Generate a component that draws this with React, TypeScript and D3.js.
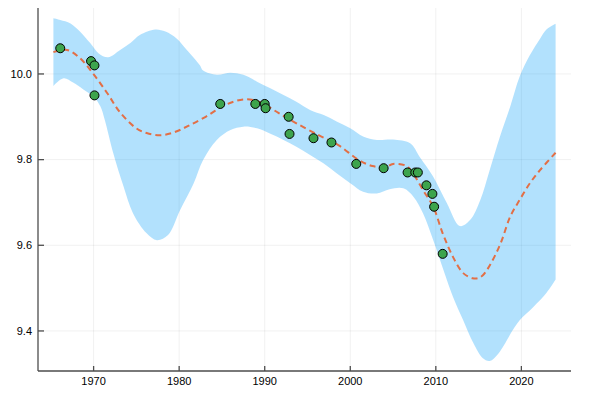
import React from 'react';
import * as d3 from 'd3';

// observations
const pointYears = [1966.1, 1969.7, 1970.1, 1970.1, 1984.8, 1988.9, 1990.0, 1990.1, 1992.8, 1992.9, 1995.7, 1997.8, 2000.7, 2003.9, 2006.7, 2007.6, 2007.9, 2008.9, 2009.6, 2009.8, 2010.8];
const pointValues = [10.06, 10.03, 10.02, 9.95, 9.93, 9.93, 9.93, 9.92, 9.90, 9.86, 9.85, 9.84, 9.79, 9.78, 9.77, 9.77, 9.77, 9.74, 9.72, 9.69, 9.58];

// fitted mean (dashed)
const meanYears = [1965.3, 1966.9, 1968.4, 1969.9, 1971.6, 1973.1, 1975.0, 1976.2, 1977.8, 1979.3, 1981.0, 1983.1, 1985.4, 1987.8, 1989.7, 1991.6, 1993.6, 1996.3, 1998.6, 2001.0, 2002.6, 2004.1, 2005.0, 2006.6, 2007.3, 2008.5, 2009.7, 2010.8, 2012.0, 2013.2, 2014.3, 2014.9, 2015.5, 2016.5, 2017.6, 2018.7, 2019.8, 2021.0, 2022.2, 2024.0];
const meanValues = [10.051, 10.056, 10.037, 10.002, 9.955, 9.910, 9.873, 9.862, 9.857, 9.863, 9.878, 9.900, 9.928, 9.941, 9.932, 9.909, 9.886, 9.857, 9.834, 9.799, 9.785, 9.782, 9.790, 9.785, 9.769, 9.729, 9.690, 9.628, 9.573, 9.535, 9.523, 9.523, 9.530, 9.560, 9.606, 9.667, 9.706, 9.745, 9.776, 9.816];

// confidence band, upper edge
const upperYears = [1965.3, 1966.1, 1967.3, 1968.4, 1969.6, 1970.6, 1971.7, 1973.1, 1974.3, 1975.4, 1977.2, 1978.4, 1979.7, 1980.9, 1982.4, 1982.8, 1984.4, 1986.0, 1987.5, 1989.1, 1990.6, 1992.2, 1993.7, 1995.3, 1996.9, 1998.4, 2000.0, 2001.5, 2003.1, 2005.0, 2007.0, 2008.1, 2009.7, 2011.3, 2012.8, 2014.0, 2015.2, 2016.3, 2017.5, 2018.7, 2019.8, 2021.0, 2022.2, 2022.9, 2024.0];
const upperValues = [10.130, 10.126, 10.118, 10.099, 10.072, 10.048, 10.039, 10.056, 10.072, 10.091, 10.104, 10.099, 10.083, 10.056, 10.021, 10.008, 9.998, 10.003, 9.998, 9.982, 9.967, 9.951, 9.935, 9.916, 9.904, 9.889, 9.873, 9.854, 9.846, 9.847, 9.838, 9.807, 9.760, 9.698, 9.645, 9.659, 9.706, 9.776, 9.854, 9.924, 9.994, 10.044, 10.083, 10.103, 10.117];

// confidence band, lower edge
const lowerYears = [1965.3, 1966.5, 1967.6, 1968.8, 1970.0, 1970.8, 1971.3, 1972.3, 1973.5, 1974.6, 1976.2, 1977.4, 1978.7, 1980.1, 1981.7, 1982.8, 1984.4, 1986.0, 1987.5, 1989.1, 1990.6, 1992.2, 1993.7, 1995.3, 1996.9, 1998.4, 2000.0, 2001.5, 2003.1, 2004.6, 2006.2, 2007.4, 2008.5, 2009.7, 2010.9, 2012.0, 2013.2, 2014.4, 2015.5, 2016.3, 2017.3, 2019.0, 2019.8, 2021.4, 2022.9, 2024.0];
const lowerValues = [9.972, 9.990, 9.980, 9.964, 9.947, 9.924, 9.893, 9.815, 9.737, 9.675, 9.628, 9.612, 9.624, 9.682, 9.745, 9.799, 9.846, 9.869, 9.877, 9.873, 9.861, 9.846, 9.830, 9.811, 9.791, 9.768, 9.745, 9.725, 9.721, 9.731, 9.733, 9.713, 9.675, 9.612, 9.542, 9.480, 9.425, 9.371, 9.336, 9.330, 9.347, 9.402, 9.425, 9.456, 9.488, 9.520];

const xTicks = [1970, 1980, 1990, 2000, 2010, 2020];
const yTicks = [9.4, 9.6, 9.8, 10.0];

const W = 589, H = 398;
const left = 38, right = 571, top = 8, bottom = 371;

export default function App() {
  const x = d3.scaleLinear().domain([1963.5, 2025.8]).range([left, right]);
  const y = d3.scaleLinear().domain([9.3065, 10.154]).range([bottom, top]);

  const line = d3.line<[number, number]>()
    .x(d => x(d[0]))
    .y(d => y(d[1]))
    .curve(d3.curveCatmullRom.alpha(0.5));

  const up: [number, number][] = upperYears.map((t, i) => [t, upperValues[i]]);
  const lo: [number, number][] = lowerYears.map((t, i) => [t, lowerValues[i]]).reverse() as [number, number][];
  const bandPath = line(up) + 'L' + (line(lo) || '').slice(1) + 'Z';

  const mean: [number, number][] = meanYears.map((t, i) => [t, meanValues[i]]);

  const font = '"Liberation Sans", Arial, Helvetica, sans-serif';
  const axisColor = '#4d4d4d';

  return (
    <svg width={W} height={H} style={{ position: 'absolute', left: 0, top: 0, background: '#fff' }}>
      {/* grid */}
      <g stroke="#000" strokeOpacity={0.1} strokeWidth={0.6}>
        {xTicks.map(t => <line key={'gx' + t} x1={x(t)} x2={x(t)} y1={top} y2={bottom} />)}
        {yTicks.map(t => <line key={'gy' + t} x1={left} x2={right} y1={y(t)} y2={y(t)} />)}
      </g>

      {/* band */}
      <path d={bandPath} fill="#009af9" fillOpacity={0.3} stroke="none" />

      {/* mean */}
      <path d={line(mean) || ''} fill="none" stroke="#e26f46" strokeWidth={2} strokeDasharray="6,4" />

      {/* points */}
      <g>
        {pointYears.map((t, i) => (
          <circle key={i} cx={x(t)} cy={y(pointValues[i])} r={4.5} fill="#3da44d" stroke="#000" strokeWidth={1} />
        ))}
      </g>

      {/* axes */}
      <g stroke={axisColor} strokeWidth={1.3}>
        <line x1={left} x2={left} y1={top} y2={bottom} />
        <line x1={left} x2={right} y1={bottom} y2={bottom} />
        {xTicks.map(t => <line key={'tx' + t} x1={x(t)} x2={x(t)} y1={bottom} y2={bottom - 5} />)}
        {yTicks.map(t => <line key={'ty' + t} x1={left} x2={left + 6} y1={y(t)} y2={y(t)} />)}
      </g>
      <g fontFamily={font} fontSize={11} fill="#000">
        {xTicks.map(t => (
          <text key={'lx' + t} x={x(t)} y={bottom + 14} textAnchor="middle">{t}</text>
        ))}
        {yTicks.map(t => (
          <text key={'ly' + t} x={left - 6} y={y(t)} dy="0.35em" textAnchor="end">{d3.format('.1f')(t)}</text>
        ))}
      </g>
    </svg>
  );
}
